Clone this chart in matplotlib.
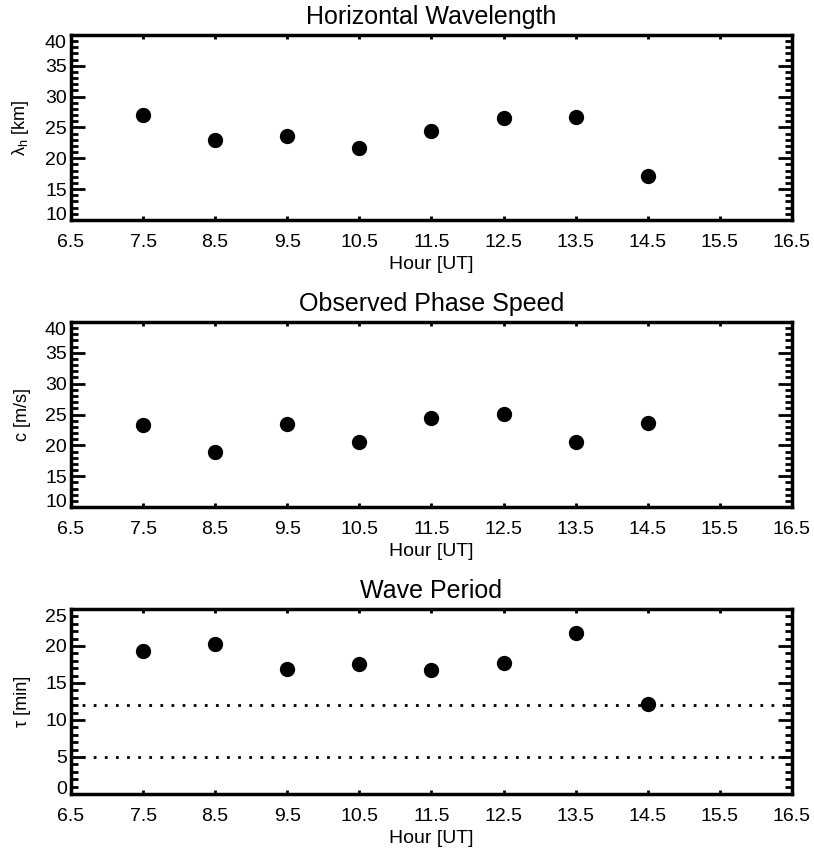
import matplotlib
matplotlib.use("Agg")
import matplotlib.pyplot as plt
from matplotlib.ticker import MultipleLocator

# ── Datos ──────────────────────────────────────────────────────────────────────
HOURS = [7.5, 8.5, 9.5, 10.5, 11.5, 12.5, 13.5, 14.5]
WAVELENGTH = [27.0, 23.0, 23.6, 21.6, 24.4, 26.5, 26.7, 17.2]
PHASE_SPEED = [23.3, 19.0, 23.5, 20.6, 24.4, 25.1, 20.6, 23.6]
PERIOD = [19.3, 20.2, 16.9, 17.6, 16.8, 17.7, 21.8, 12.1]
PERIOD_LIMITS = [12, 5]

X_TICKS = [6.5, 7.5, 8.5, 9.5, 10.5, 11.5, 12.5, 13.5, 14.5, 15.5, 16.5]

plt.rcParams["font.family"] = ["Liberation Sans", "DejaVu Sans"]

fig = plt.figure(figsize=(8.14, 8.48), dpi=100)

panels = [
    ("Horizontal Wavelength", "λ$_\\mathregular{h}$ [km]", WAVELENGTH, (10, 40), 0.7406),
    ("Observed Phase Speed", "c [m/s]", PHASE_SPEED, (10, 40), 0.4021),
    ("Wave Period", "τ [min]", PERIOD, (0, 25), 0.0637),
]

axes = []
for title, ylabel, values, ylim, bottom in panels:
    ax = fig.add_axes([0.0872, bottom, 0.8857, 0.2182])
    ax.plot(HOURS, values, "o", color="black", markersize=10, zorder=3)

    if title == "Wave Period":
        for y in PERIOD_LIMITS:
            ax.axhline(y, color="black", linestyle=(0, (1, 3)), linewidth=2)

    ax.set_xlim(6.5, 16.5)
    ax.set_ylim(*ylim)
    ax.set_xticks(X_TICKS)
    ax.set_xticklabels([f"{t:.1f}" for t in X_TICKS])
    ax.yaxis.set_major_locator(MultipleLocator(5))
    ax.yaxis.set_minor_locator(MultipleLocator(1))

    ax.tick_params(axis="both", which="both", direction="in", top=True, right=True,
                   labelsize=14, width=2)
    ax.tick_params(axis="y", which="major", length=10, pad=3)
    ax.tick_params(axis="y", which="minor", length=5)
    ax.tick_params(axis="x", which="major", length=3, pad=10)
    for spine in ax.spines.values():
        spine.set_linewidth(2.5)

    ax.set_title(title, fontsize=18, pad=8)
    ax.set_xlabel("Hour [UT]", fontsize=14, labelpad=4)
    ax.set_ylabel(ylabel, fontsize=13, labelpad=10)
    axes.append((ax, ylim))

# como en IDL: etiquetas extremas del eje y dentro del rango
fig.canvas.draw()
for ax, (ymin, ymax) in axes:
    for tick in ax.yaxis.get_major_ticks():
        if abs(tick.get_loc() - ymin) < 1e-9:
            tick.label1.set_va("baseline")
        elif abs(tick.get_loc() - ymax) < 1e-9:
            tick.label1.set_va("top")

fig.savefig("out.png", dpi=100)
